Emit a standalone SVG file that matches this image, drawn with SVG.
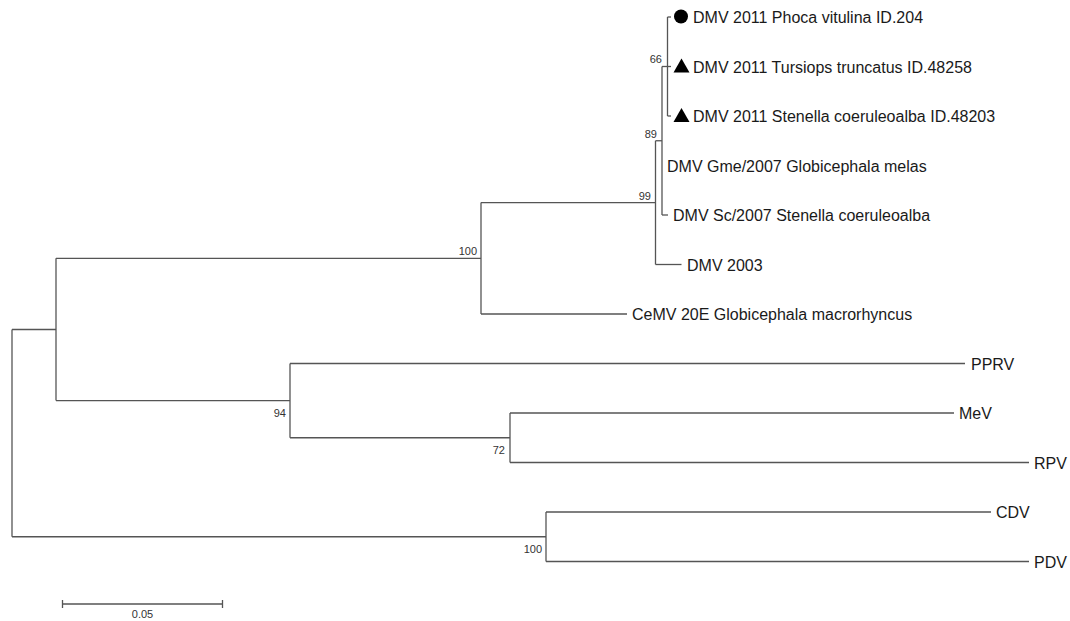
<svg xmlns="http://www.w3.org/2000/svg" width="1070" height="621" viewBox="0 0 1070 621">
<style>
.br{fill:none;stroke:#555;stroke-width:1.3}
.lb{font-family:"Liberation Sans",Arial,sans-serif;font-size:16px;fill:#1a1a1a}
.bs{font-family:"Liberation Sans",Arial,sans-serif;font-size:11px;fill:#333;text-anchor:end}
.sym{fill:#000}
</style>
<rect width="1070" height="621" fill="#fff"/>
<g id="connectors" class="br">
<path d="M12 329.5V536.75"/>
<path d="M12 329.5H56"/>
<path d="M56 258.3V400.6"/>
<path d="M56 258.3H481"/>
<path d="M481 202.6V314"/>
<path d="M481 202.6H655.5"/>
<path d="M481 314H627"/>
<path d="M655.5 140.75V264.5"/>
<path d="M655.5 140.75H662"/>
<path d="M655.5 264.5H681.5"/>
<path d="M662 66.5V215"/>
<path d="M662 66.5H667.5"/>
<path d="M662 215H668"/>
<path d="M667.5 17V116"/>
<path d="M667.5 17H671"/>
<path d="M667.5 66.5H671"/>
<path d="M667.5 116H671"/>
<path d="M56 400.6H290"/>
<path d="M290 363.5V437.75"/>
<path d="M290 363.5H965"/>
<path d="M290 437.75H510"/>
<path d="M510 413V462.5"/>
<path d="M510 413H954"/>
<path d="M510 462.5H1029"/>
<path d="M12 536.75H546"/>
<path d="M546 512V561.5"/>
<path d="M546 512H991"/>
<path d="M546 561.5H1029"/>
</g>
<g id="bootstrap">
<text class="bs" x="662" y="63">66</text>
<text class="bs" x="657" y="138">89</text>
<text class="bs" x="651" y="199.5">99</text>
<text class="bs" x="477" y="255">100</text>
<text class="bs" x="286" y="416.5">94</text>
<text class="bs" x="505" y="454">72</text>
<text class="bs" x="542" y="553">100</text>
</g>
<g id="leaf-phoca"><circle class="sym" cx="681" cy="16.5" r="7"/><text class="lb" x="693" y="23">DMV 2011 Phoca vitulina ID.204</text></g>
<g id="leaf-tursiops"><polygon class="sym" points="673.5,72.5 689.5,72.5 681.5,58.5"/><text class="lb" x="693" y="72.5">DMV 2011 Tursiops truncatus ID.48258</text></g>
<g id="leaf-stenella2011"><polygon class="sym" points="673.5,122 689.5,122 681.5,108"/><text class="lb" x="693" y="122">DMV 2011 Stenella coeruleoalba ID.48203</text></g>
<g id="leaf-gme"><text class="lb" x="667" y="171.5">DMV Gme/2007 Globicephala melas</text></g>
<g id="leaf-sc"><text class="lb" x="673" y="221">DMV Sc/2007 Stenella coeruleoalba</text></g>
<g id="leaf-dmv2003"><text class="lb" x="687" y="270.5">DMV 2003</text></g>
<g id="leaf-cemv"><text class="lb" x="632" y="320">CeMV 20E Globicephala macrorhyncus</text></g>
<g id="leaf-pprv"><text class="lb" x="971" y="369.5">PPRV</text></g>
<g id="leaf-mev"><text class="lb" x="959" y="419">MeV</text></g>
<g id="leaf-rpv"><text class="lb" x="1034" y="468.5">RPV</text></g>
<g id="leaf-cdv"><text class="lb" x="996" y="518">CDV</text></g>
<g id="leaf-pdv"><text class="lb" x="1034" y="567.5">PDV</text></g>
<g id="scale-bar">
<path class="br" d="M62.5 604H222.5M62.5 600V608M222.5 600V608"/>
<text x="142.5" y="618" font-family="Liberation Sans, Arial, sans-serif" font-size="11" fill="#333" text-anchor="middle">0.05</text>
</g>
</svg>
